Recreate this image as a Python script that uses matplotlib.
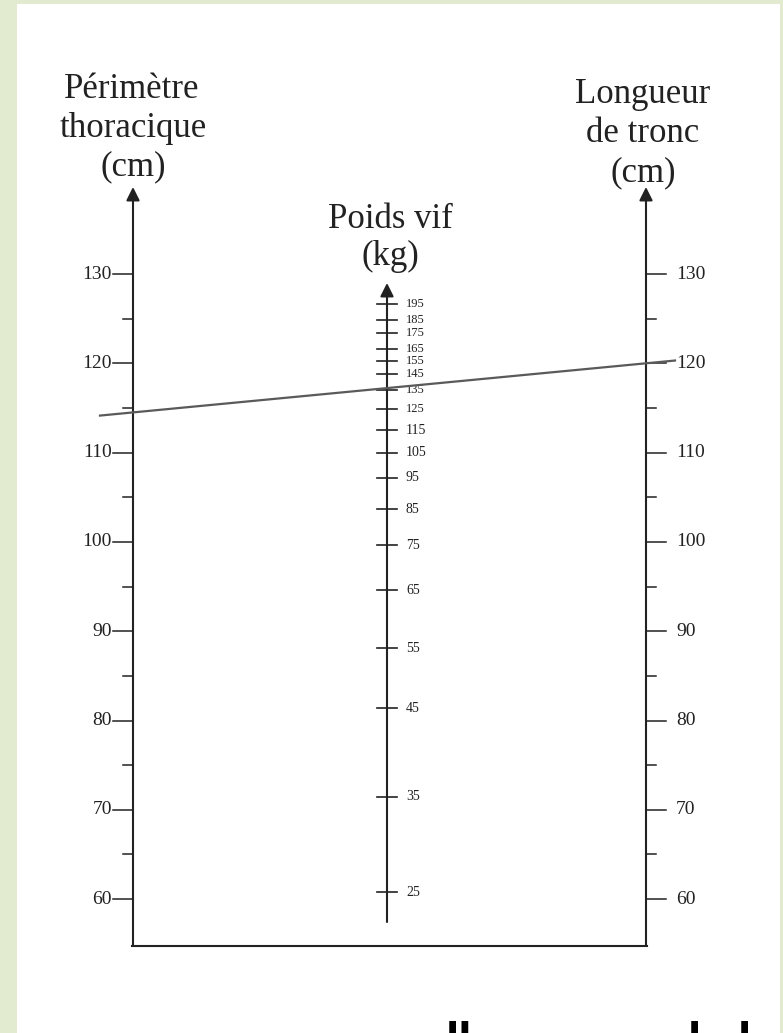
import matplotlib
matplotlib.use("Agg")
import matplotlib.pyplot as plt
from matplotlib.patches import Rectangle

# --- data (values on the common cm scale) ---
perimetre_major = [60, 70, 80, 90, 100, 110, 120, 130]
perimetre_minor = [65, 75, 85, 95, 105, 115, 125]
longueur_major = [60, 70, 80, 90, 100, 110, 120, 130]
longueur_minor = [65, 75, 85, 95, 105, 115, 125]
poids_labels = [25, 35, 45, 55, 65, 75, 85, 95, 105, 115,
                125, 135, 145, 155, 165, 175, 185, 195]
poids_pos = [60.76, 71.47, 81.37, 88.09, 94.61, 99.65, 103.65, 107.16, 109.99,
             112.53, 114.85, 117.01, 118.77, 120.26, 121.57, 123.43, 124.85, 126.61]
lecture_perimetre = 114.5   # reading line on the left scale
lecture_longueur = 120.0    # reading line on the right scale

# --- layout (pixel x, cm y) ---
W, H = 783, 1033
PX_PER_CM = 8.93
Y130 = 274  # pixel row of 130 cm
def cm(ypx):
    return 130 - (ypx - Y130) / PX_PER_CM

XL, XM, XR = 133, 387, 646
ink = "#222222"
serif = ["Liberation Serif", "DejaVu Serif"]

fig = plt.figure(figsize=(W / 100, H / 100), dpi=100, facecolor="#e2ebd0")
ax = fig.add_axes([0, 0, 1, 1])
ax.set_xlim(0, W)
ax.set_ylim(cm(H), cm(0))
ax.axis("off")
ax.add_patch(Rectangle((17, cm(H)), 763, cm(4) - cm(H), facecolor="white",
                       edgecolor="none", zorder=0))

# axes with arrows
for x, top, bot in [(XL, cm(187), cm(946)), (XR, cm(187), cm(946)),
                    (XM, cm(283), cm(922))]:
    ax.annotate("", xy=(x, top), xytext=(x, bot),
                arrowprops=dict(arrowstyle="-|>", color=ink, lw=1.5,
                                mutation_scale=20, shrinkA=0, shrinkB=0))
ax.plot([XL - 0.7, XR + 0.7], [cm(946), cm(946)], color=ink, lw=1.5,
        solid_capstyle="projecting")

# left scale
for v in perimetre_major:
    ax.plot([XL - 20, XL], [v, v], color=ink, lw=1.1)
    ax.text(XL - 21, v, str(v), ha="right", va="center", fontsize=14,
            family=serif, color=ink)
for v in perimetre_minor:
    ax.plot([XL - 10, XL], [v, v], color=ink, lw=1.1)

# right scale
for v in longueur_major:
    ax.plot([XR, XR + 20], [v, v], color=ink, lw=1.1)
    ax.text(XR + 30, v, str(v), ha="left", va="center", fontsize=14,
            family=serif, color=ink)
for v in longueur_minor:
    ax.plot([XR, XR + 10], [v, v], color=ink, lw=1.1)

# middle scale
for lab, v in zip(poids_labels, poids_pos):
    ax.plot([XM - 10, XM + 10], [v, v], color=ink, lw=1.2)
    ax.text(XM + 19, v, str(lab), ha="left", va="center",
            fontsize=10 if lab < 125 else 9, family=serif, color=ink)

# reading line
slope = (lecture_longueur - lecture_perimetre) / (XR - XL)
x0, x1 = 100, 675
ax.plot([x0, x1], [lecture_perimetre + slope * (x0 - XL),
                   lecture_perimetre + slope * (x1 - XL)],
        color="#5a5a5a", lw=1.6, zorder=3)

# titles
for txt, x, y in [("Périmètre", 132, 98), ("thoracique", 133, 137), ("(cm)", 133, 175),
                  ("Longueur", 643, 103), ("de tronc", 643, 142), ("(cm)", 643, 181),
                  ("Poids vif", 390, 228), ("(kg)", 390, 265)]:
    ax.text(x, cm(y), txt, ha="center", va="baseline", fontsize=25,
            family=serif, color=ink)

# caption line cut by the bottom edge (only the ascender tops show)
for txt, x in [("ll", 446), ("l", 688), ("l", 738)]:
    ax.text(x, cm(1021), txt, ha="left", va="top", fontsize=28,
            fontweight="bold", color="black", clip_on=False)

fig.savefig("out.png", dpi=100, facecolor=fig.get_facecolor())
